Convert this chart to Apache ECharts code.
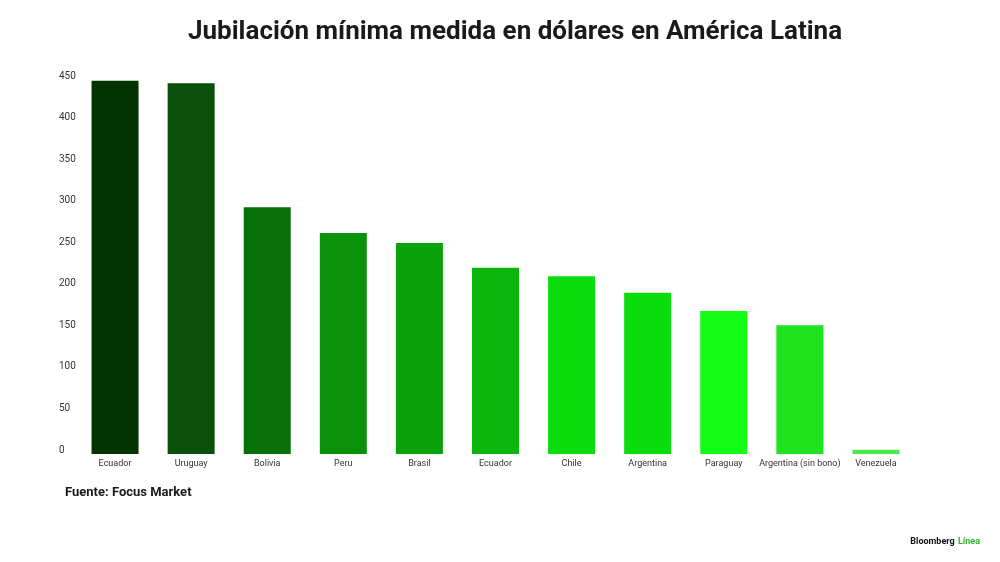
<!DOCTYPE html>
<html>
<head>
<meta charset="utf-8">
<script src="https://cdn.jsdelivr.net/npm/echarts@6/dist/echarts.min.js"></script>
<style>
  html, body { margin: 0; padding: 0; background: #fff; }
  #chart { width: 1000px; height: 562px; }
</style>
</head>
<body>
<div id="chart"></div>
<script>
const countries = ['Ecuador', 'Uruguay', 'Bolivia', 'Peru', 'Brasil', 'Ecuador', 'Chile', 'Argentina', 'Paraguay', 'Argentina (sin bono)', 'Venezuela']
const pension = [449, 446, 297, 266, 254, 224, 214, 194, 172, 155, 5]
const barColors = ['#033300', '#0a500a', '#077008', '#099209', '#0aa10a', '#0bb60b', '#0bdc0b', '#0bdc0b', '#14fb14', '#1fe31f', '#4be84b']
const yTicks = [0, 50, 100, 150, 200, 250, 300, 350, 400, 450]

const font = 'Roboto, "Liberation Sans", sans-serif'

const chart = echarts.init(document.getElementById('chart'))
chart.setOption({
  animation: false,
  title: [{
    text: 'Jubilación mínima medida en dólares en América Latina',
    left: 183,
    top: 14,
    textStyle: { fontFamily: font, fontSize: 26, fontWeight: 'bold', color: '#1a1a1a' }
  }, {
    text: 'Fuente: Focus Market',
    left: 60,
    top: 481,
    textStyle: { fontFamily: font, fontSize: 13, fontWeight: 'bold', color: '#1a1a1a' }
  }],
  graphic: [{
    type: 'text',
    right: 20,
    top: 536,
    style: {
      text: '{b|Bloomberg} {g|Línea}',
      rich: {
        b: { fontFamily: font, fontSize: 9, fontWeight: 'bold', fill: '#111' },
        g: { fontFamily: font, fontSize: 9, fontWeight: 'bold', fill: '#2db82d' }
      }
    }
  }],
  grid: { left: 77, right: 86, top: 80, bottom: 108 },
  xAxis: {
    type: 'category',
    data: countries,
    axisLine: { show: false },
    axisTick: { show: false },
    axisLabel: { interval: 0, margin: 5, fontFamily: font, fontSize: 9, color: '#333' }
  },
  yAxis: {
    type: 'value',
    min: yTicks[0],
    max: yTicks[yTicks.length - 1],
    interval: 50,
    splitLine: { show: false },
    axisLine: { show: false },
    axisTick: { show: false },
    axisLabel: {
      align: 'left',
      verticalAlign: 'bottom',
      lineHeight: 8,
      margin: 18,
      fontFamily: font,
      fontSize: 10,
      color: '#333'
    }
  },
  series: [{
    type: 'bar',
    barWidth: 47,
    data: pension.map((v, i) => ({ value: v, itemStyle: { color: barColors[i] } }))
  }]
})
</script>
</body>
</html>
